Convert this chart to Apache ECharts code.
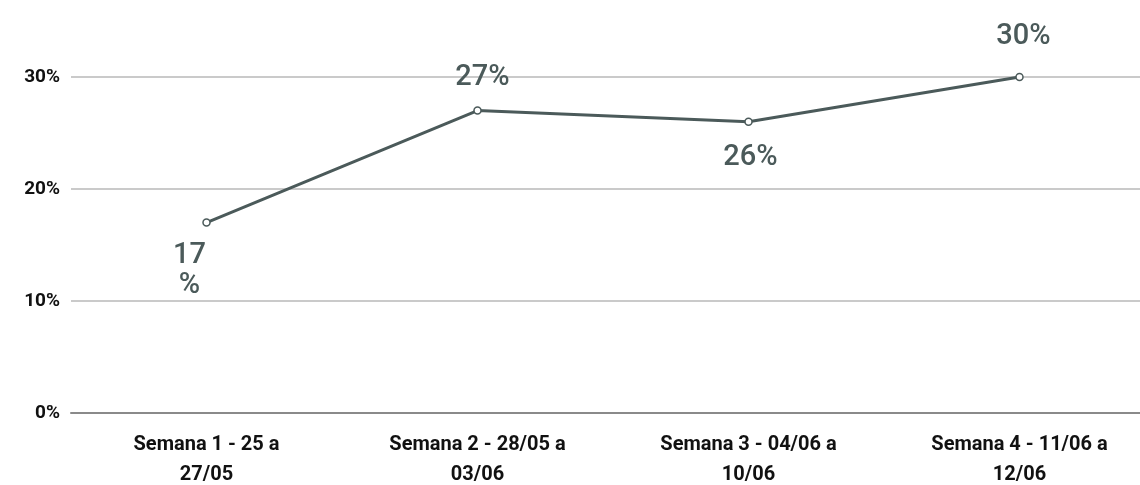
<!DOCTYPE html>
<html>
<head>
<meta charset="utf-8">
<script src="https://cdn.jsdelivr.net/npm/echarts@6/dist/echarts.min.js"></script>
<style>
  html, body { margin: 0; padding: 0; background: #fff; }
  #chart { width: 1140px; height: 485px; }
</style>
</head>
<body>
<div id="chart"></div>
<script>
// data
var weeks = [
  "Semana 1 - 25 a\n27/05",
  "Semana 2 - 28/05 a\n03/06",
  "Semana 3 - 04/06 a\n10/06",
  "Semana 4 - 11/06 a\n12/06"
];
var shares = [17, 27, 26, 30];
var yTicks = [0, 10, 20, 30];

// where each point label sits
var labelSides = ["bottom", "top", "bottom", "top"];
var labelNudge = [[-17, 0], [5, 0], [2, 3], [4, -8]];

let chartBox = document.getElementById("chart");
let myChart = echarts.init(chartBox);

var lineColor = "#4b5a5a";

var points = shares.map(function (v, i) {
  var item = { value: v, label: { position: labelSides[i], offset: labelNudge[i] } };
  if (i == 0) {
    // the first label wraps in the original
    item.label.width = 40;
    item.label.overflow = "break";
    item.label.lineHeight = 30;
  }
  return item;
});

var option = {
  animation: false,
  grid: {
    left: 71,
    width: 1084,
    top: 77,
    bottom: 72,
    containLabel: false,
    outerBoundsMode: "none",
  },
  xAxis: {
    type: "category",
    data: weeks,
    boundaryGap: true,
    axisLine: { show: true, lineStyle: { color: "#8a8a8a", width: 2 } },
    axisTick: { show: false },
    axisLabel: {
      interval: 0,
      margin: 17,
      color: "#111111",
      fontFamily: "Roboto",
      fontWeight: "bold",
      fontSize: 20,
      lineHeight: 30,
    },
  },
  yAxis: {
    type: "value",
    min: yTicks[0],
    max: yTicks[yTicks.length - 1],
    interval: 10,
    axisLine: { show: false },
    axisTick: { show: false },
    axisLabel: {
      margin: 11,
      color: "#111111",
      fontFamily: "Roboto",
      fontWeight: "bold",
      fontSize: 19,
      formatter: "{value}%",
    },
    splitLine: { lineStyle: { color: "#cacaca", width: 2 } },
  },
  series: [
    {
      type: "line",
      data: points,
      symbol: "circle",
      symbolSize: 7,
      itemStyle: { color: "#ffffff", borderColor: lineColor, borderWidth: 1.5 },
      lineStyle: { color: lineColor, width: 3 },
      label: {
        show: true,
        distance: 14,
        color: "#4b5a5a",
        fontFamily: "Roboto",
        fontWeight: 500,
        fontSize: 29,
        formatter: "{c}%",
      },
    },
  ],
};

myChart.setOption(option);

window.onresize = function () {
  if (myChart != null && myChart != undefined) {
    myChart.resize();
  }
};
</script>
</body>
</html>
